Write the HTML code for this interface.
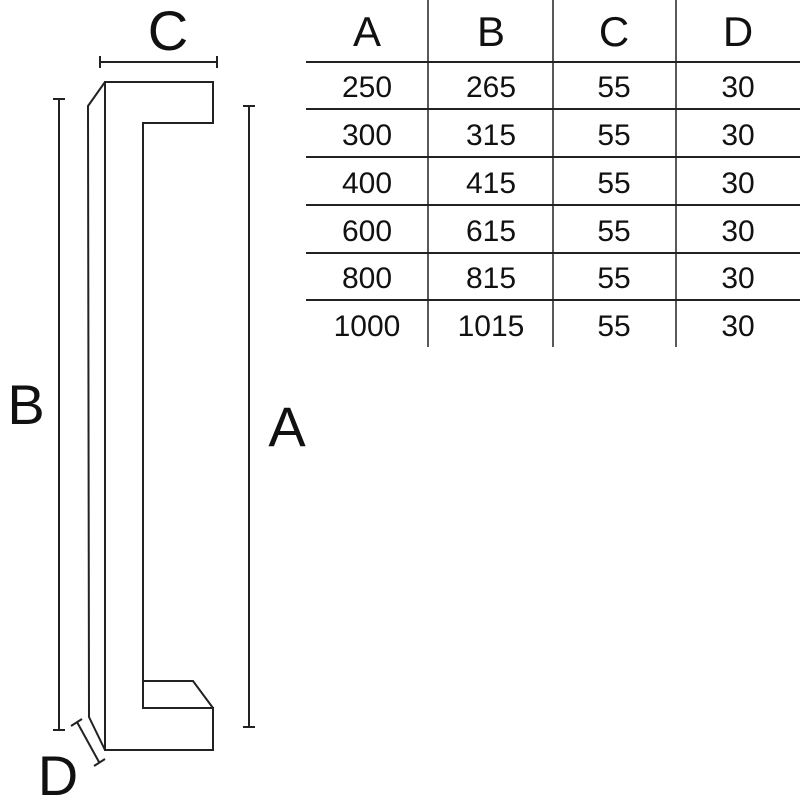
<!DOCTYPE html>
<html><head><meta charset="utf-8"><style>
html,body{margin:0;padding:0;background:#fff;width:800px;height:800px;overflow:hidden}
</style></head><body>
<svg width="800" height="800" viewBox="0 0 800 800" xmlns="http://www.w3.org/2000/svg" font-family="'Liberation Sans', 'DejaVu Sans', sans-serif">
<g fill="none" stroke="#222" stroke-width="2">
<path d="M105 82 L213 82 L213 123 L143 123 L143 708 L213 708 L213 750 L105 750 Z"/>
<path d="M143 681 L193 681 L213 708"/>
<path d="M105 82 L88 106 L89 717 L105 750"/>
<path d="M100 62 L217 62 M100 56 L100 68 M217 56 L217 68"/>
<path d="M59 99 L59 730 M53 99 L65 99 M53 730 L65 730"/>
<path d="M249 106 L249 727 M243 106 L255 106 M243 727 L255 727"/>
<path d="M77 722 L99 762 M71 726 L82 719 M94 766 L105 759"/>
<path d="M306 62 L800 62 M306 109 L800 109 M306 157 L800 157 M306 205 L800 205 M306 253 L800 253 M306 300 L800 300"/>
<path d="M428 0 L428 347 M553 0 L553 347 M676 0 L676 347" stroke-width="1.5"/>
</g>
<g fill="#111" text-anchor="middle">
<text x="168" y="50" font-size="56">C</text>
<text x="26" y="424" font-size="56">B</text>
<text x="287" y="446" font-size="56">A</text>
<text x="58" y="795" font-size="56">D</text>
<g font-size="42">
<text x="367" y="46">A</text><text x="491" y="46">B</text><text x="614" y="46">C</text><text x="738" y="46">D</text>
</g>
<g font-size="30">
<text x="367" y="97">250</text><text x="491" y="97">265</text><text x="614" y="97">55</text><text x="738" y="97">30</text>
<text x="367" y="145">300</text><text x="491" y="145">315</text><text x="614" y="145">55</text><text x="738" y="145">30</text>
<text x="367" y="193">400</text><text x="491" y="193">415</text><text x="614" y="193">55</text><text x="738" y="193">30</text>
<text x="367" y="241">600</text><text x="491" y="241">615</text><text x="614" y="241">55</text><text x="738" y="241">30</text>
<text x="367" y="288">800</text><text x="491" y="288">815</text><text x="614" y="288">55</text><text x="738" y="288">30</text>
<text x="367" y="336">1000</text><text x="491" y="336">1015</text><text x="614" y="336">55</text><text x="738" y="336">30</text>
</g>
</g>
</svg>
</body></html>
